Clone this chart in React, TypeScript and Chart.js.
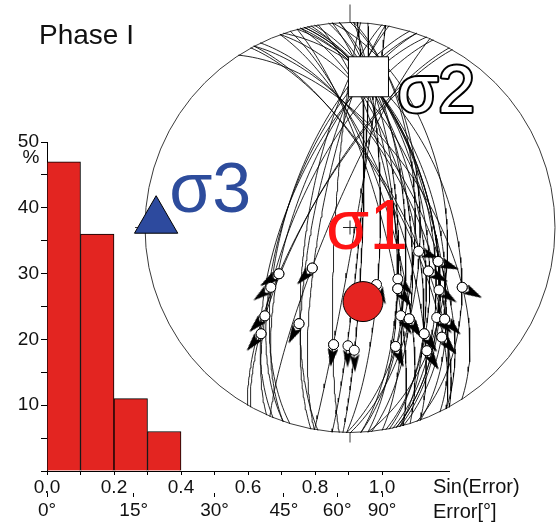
import React, { useEffect, useRef } from 'react';
import { Chart, registerables } from 'chart.js';

Chart.register(...registerables);

const FONT = "'Liberation Sans', Arial, Helvetica, sans-serif";

// ---------- Histogram data ----------
const binLower = [0.0, 0.1, 0.2, 0.3];
const binWidth = 0.1;
const binPercent = [47, 36, 11, 6];
const sinTickValues = [0, 0.1, 0.2, 0.3, 0.4, 0.5, 0.6, 0.7, 0.8, 0.9, 1.0];
const sinTickLabels = ['0.0', '', '0.2', '', '0.4', '', '0.6', '', '0.8', '', '1.0'];
const errTickDegrees = [0, 15, 30, 45, 60, 90];
const errTickLabels = ['0°', '15°', '30°', '45°', '60°', '90°'];
const yTickValues = [0, 5, 10, 15, 20, 25, 30, 35, 40, 45, 50];
const yTickLabels = ['', '', '10', '', '20', '', '30', '', '40', '', '50'];

// ---------- Stereonet data (fault planes: dip direction / dip, striae: trend / plunge) ----------
const faultDipDir = [289, 287, 294, 292, 280, 281, 273, 95, 92, 91, 85, 87, 76, 77, 80, 76, 71, 81, 84, 87, 79, 77, 70, 75, 78, 57, 62, 64, 85, 91, 299, 289, 300, 279, 100, 293, 75, 90, 70, 62, 61, 73];
const faultDip = [67, 64, 68, 64, 78, 75, 84, 86, 85, 78, 72, 71, 65, 57, 60, 57, 49, 72, 66, 68, 62, 57, 58, 55, 58, 58, 62, 64, 51, 64, 73, 64, 73, 73, 88, 82, 77, 62, 71, 70, 69, 74];
const striaTrend = [237, 233, 224, 220, 223, 208, 188, 181, 178, 155, 137, 142, 109, 111, 119, 125, 118, 150, 147, 159, 145, 136, 134, 140, 148, 118, 111, 134, 148, 159, 220, 224, 237, 208, 188, 223, 142, 147, 145, 140, 119, 147];
const striaPlunge = [56, 50, 40, 33, 68, 46, 42, 42, 40, 65, 62, 59, 61, 52, 54, 46, 38, 49, 46, 38, 37, 39, 36, 31, 30, 38, 52, 36, 30, 38, 33, 40, 56, 46, 42, 68, 59, 46, 37, 31, 54, 46];

const sigmaNames = ['σ1', 'σ2', 'σ3'];
const sigmaTrend = [170, 7, 272];
const sigmaPlunge = [60, 27, 6];

// ---------- geometry helpers (lower hemisphere, equal-area) ----------
const D2R = Math.PI / 180;
type V3 = [number, number, number];
const lineVec = (trend: number, plunge: number): V3 => [
  Math.cos(plunge * D2R) * Math.sin(trend * D2R),
  Math.cos(plunge * D2R) * Math.cos(trend * D2R),
  Math.sin(plunge * D2R),
];
const project = (v: V3) => {
  let [x, y, z] = v;
  const m = Math.hypot(x, y, z);
  x /= m; y /= m; z /= m;
  if (z < 0) { x = -x; y = -y; z = -z; }
  const h = Math.hypot(x, y);
  const r = Math.sqrt(Math.max(0, 1 - z));
  if (h < 1e-9) return { x: 0, y: 0 };
  return { x: (x / h) * r, y: (y / h) * r };
};
const greatCircle = (dd: number, dip: number) => {
  const s: V3 = [Math.sin((dd - 90) * D2R), Math.cos((dd - 90) * D2R), 0];
  const d = lineVec(dd, dip);
  const pts: { x: number; y: number }[] = [];
  for (let a = 0; a <= 180; a += 2) {
    const c = Math.cos(a * D2R), sn = Math.sin(a * D2R);
    pts.push(project([s[0] * c + d[0] * sn, s[1] * c + d[1] * sn, s[2] * c + d[2] * sn]));
  }
  return pts;
};

function makeArrowCanvas() {
  const c = document.createElement('canvas');
  c.width = 10; c.height = 18;
  const g = c.getContext('2d')!;
  g.fillStyle = '#000';
  g.beginPath();
  g.moveTo(5, 0);
  g.lineTo(10, 18);
  g.lineTo(5, 14);
  g.lineTo(0, 18);
  g.closePath();
  g.fill();
  return c;
}

function Histogram() {
  const ref = useRef<HTMLCanvasElement>(null);
  useEffect(() => {
    const textPlugin = {
      id: 'histText',
      afterDraw(chart: any) {
        const ctx = chart.ctx;
        const ys = chart.scales.y;
        const xs = chart.scales.x;
        ctx.save();
        ctx.fillStyle = '#111';
        ctx.textAlign = 'center';
        ctx.textBaseline = 'middle';
        ctx.font = `19px ${FONT}`;
        ctx.fillText('%', ys.right - 16, ys.getPixelForValue(50) + 16);
        ctx.textAlign = 'left';
        ctx.font = `20px ${FONT}`;
        const tx = xs.getPixelForValue(1.0) + 51;
        ctx.fillText('Sin(Error)', tx, 487);
        ctx.fillText('Error[°]', tx, 512);
        ctx.textBaseline = 'alphabetic';
        ctx.font = `28px ${FONT}`;
        ctx.fillText('Phase I', 39, 44);
        ctx.restore();
      },
    };
    const chart = new Chart(ref.current!, {
      type: 'bar',
      data: {
        datasets: [
          {
            data: binLower.map((b, i) => ({ x: b + binWidth / 2, y: binPercent[i] })),
            backgroundColor: '#e32521',
            borderColor: '#000',
            borderWidth: 1,
            barPercentage: 1,
            categoryPercentage: 1,
          },
        ],
      },
      options: {
        animation: false,
        responsive: false,
        devicePixelRatio: 1,
        events: [],
        layout: { autoPadding: false, padding: { left: 0, right: 109, top: 142, bottom: 0 } },
        plugins: { legend: { display: false }, tooltip: { enabled: false } },
        scales: {
          x: {
            type: 'linear',
            position: 'bottom',
            offset: false,
            min: 0,
            max: 1.2,
            afterFit: (s: any) => { s.height = 22; },
            afterBuildTicks: (s: any) => { s.ticks = sinTickValues.map((v) => ({ value: v })); },
            ticks: {
              autoSkip: false,
              maxRotation: 0,
              padding: 1,
              color: '#111',
              font: { size: 19, family: FONT },
              callback: (_v: any, i: number) => sinTickLabels[i],
            },
            grid: { drawOnChartArea: false, offset: false, tickLength: 4, color: '#000' },
            border: { color: '#000', width: 1 },
          },
          x2: {
            type: 'linear',
            position: 'bottom',
            offset: false,
            min: 0,
            max: 1.2,
            afterFit: (s: any) => { s.height = 29; },
            afterBuildTicks: (s: any) => { s.ticks = errTickDegrees.map((d) => ({ value: Math.sin(d * D2R) })); },
            ticks: {
              autoSkip: false,
              maxRotation: 0,
              padding: 2,
              color: '#111',
              font: { size: 19, family: FONT },
              callback: (_v: any, i: number) => errTickLabels[i],
            },
            grid: { drawOnChartArea: false, offset: false, tickLength: 4, color: '#000' },
            border: { display: false },
          },
          y: {
            type: 'linear',
            min: 0,
            max: 50,
            afterFit: (s: any) => { s.width = 47; },
            afterBuildTicks: (s: any) => { s.ticks = yTickValues.map((v) => ({ value: v })); },
            ticks: {
              autoSkip: false,
              padding: 2,
              color: '#111',
              font: { size: 19, family: FONT },
              callback: (_v: any, i: number) => yTickLabels[i],
            },
            grid: { drawOnChartArea: false, tickLength: 6, color: '#000' },
            border: { color: '#000', width: 1 },
          },
        },
      },
      plugins: [textPlugin],
    } as any);
    return () => chart.destroy();
  }, []);
  return <canvas ref={ref} width={558} height={522} style={{ position: 'absolute', left: 0, top: 0 }} />;
}

function Stereonet() {
  const ref = useRef<HTMLCanvasElement>(null);
  useEffect(() => {
    const arrowImg = makeArrowCanvas();
    const circleSets = faultDipDir.map((dd, i) => ({
      data: greatCircle(dd, faultDip[i]),
      showLine: true,
      borderColor: '#000',
      borderWidth: 0.85,
      pointRadius: 0,
      tension: 0,
      clip: false,
      order: 10,
    }));
    // striae with slip-sense arrows (normal faults: arrow points outward along trend)
    const striaPts = striaTrend.map((t, i) => project(lineVec(t, striaPlunge[i])));
    const off = 13 / 205;
    const arrowPts = striaTrend.map((t, i) => ({
      x: striaPts[i].x + Math.sin(t * D2R) * off,
      y: striaPts[i].y + Math.cos(t * D2R) * off,
    }));
    const arrowRot = striaTrend.map((t) => t);
    const sig = sigmaTrend.map((t, i) => project(lineVec(t, sigmaPlunge[i])));

    const netPlugin = {
      id: 'net',
      beforeDatasetsDraw(chart: any) {
        const { ctx } = chart;
        const xs = chart.scales.x, ys = chart.scales.y;
        const cx = xs.getPixelForValue(0), cy = ys.getPixelForValue(0);
        const R = xs.getPixelForValue(1) - cx;
        ctx.save();
        ctx.strokeStyle = '#3a3a3a';
        ctx.lineWidth = 1;
        ctx.beginPath();
        ctx.arc(cx, cy, R, 0, Math.PI * 2);
        ctx.stroke();
        ctx.beginPath();
        ctx.moveTo(cx, cy - R - 18); ctx.lineTo(cx, cy - R);
        ctx.moveTo(cx, cy + R); ctx.lineTo(cx, cy + R + 10);
        ctx.moveTo(cx - R - 10, cy); ctx.lineTo(cx - R + 2, cy);
        ctx.stroke();
        ctx.restore();
      },
      afterDatasetsDraw(chart: any) {
        const { ctx } = chart;
        const xs = chart.scales.x, ys = chart.scales.y;
        const px = (p: { x: number; y: number }) => [xs.getPixelForValue(p.x), ys.getPixelForValue(p.y)];
        const [s1x, s1y] = px(sig[0]);
        const [s2x, s2y] = px(sig[1]);
        const [s3x, s3y] = px(sig[2]);
        ctx.save();
        ctx.textBaseline = 'alphabetic';
        ctx.textAlign = 'left';
        ctx.font = `70px ${FONT}`;
        ctx.fillStyle = '#ff1414';
        ctx.fillText(sigmaNames[0], s1x - 37, s1y - 53);
        ctx.fillStyle = '#2d4c9c';
        ctx.fillText(sigmaNames[2], s3x + 13, s3y - 9);
        ctx.font = `66px ${FONT}`;
        ctx.lineJoin = 'round';
        ctx.lineWidth = 4;
        ctx.strokeStyle = '#000';
        ctx.strokeText(sigmaNames[1], s2x + 29, s2y + 35);
        ctx.fillStyle = '#fff';
        ctx.fillText(sigmaNames[1], s2x + 29, s2y + 35);
        // centre cross
        const cx = xs.getPixelForValue(0), cy = ys.getPixelForValue(0);
        ctx.strokeStyle = '#222';
        ctx.lineWidth = 1;
        ctx.beginPath();
        ctx.moveTo(cx - 7, cy); ctx.lineTo(cx + 7, cy);
        ctx.moveTo(cx, cy - 7); ctx.lineTo(cx, cy + 7);
        ctx.stroke();
        ctx.restore();
      },
    };

    const chart = new Chart(ref.current!, {
      type: 'scatter',
      data: {
        datasets: [
          ...circleSets,
          {
            data: arrowPts,
            pointStyle: arrowImg,
            pointRadius: 8,
            pointRotation: arrowRot,
            clip: false,
            order: 4,
          },
          {
            data: striaPts,
            pointStyle: 'circle',
            pointRadius: 5,
            pointBackgroundColor: '#fff',
            pointBorderColor: '#000',
            pointBorderWidth: 1,
            clip: false,
            order: 3,
          },
          {
            data: [sig[0]],
            pointStyle: 'circle',
            pointRadius: 20,
            pointBackgroundColor: '#e52421',
            pointBorderColor: '#000',
            pointBorderWidth: 1,
            clip: false,
            order: 1,
          },
          {
            data: [sig[1]],
            pointStyle: 'rect',
            pointRadius: 28.3,
            pointBackgroundColor: '#fff',
            pointBorderColor: '#000',
            pointBorderWidth: 1,
            clip: false,
            order: 1,
          },
          {
            data: [sig[2]],
            pointStyle: 'triangle',
            pointRadius: 25,
            pointBackgroundColor: '#2d4a9e',
            pointBorderColor: '#000',
            pointBorderWidth: 1,
            clip: false,
            order: 1,
          },
        ],
      },
      options: {
        animation: false,
        responsive: false,
        devicePixelRatio: 1,
        events: [],
        layout: { autoPadding: false, padding: { left: 145, right: 3, top: 22, bottom: 89 } },
        plugins: { legend: { display: false }, tooltip: { enabled: false } },
        scales: {
          x: { type: 'linear', min: -1, max: 1, display: false },
          y: { type: 'linear', min: -1, max: 1, display: false },
        },
      },
      plugins: [netPlugin],
    } as any);
    return () => chart.destroy();
  }, []);
  return <canvas ref={ref} width={558} height={522} style={{ position: 'absolute', left: 0, top: 0 }} />;
}

export default function App() {
  return (
    <div style={{ position: 'fixed', left: 0, top: 0, width: 558, height: 522, background: '#fff', overflow: 'hidden' }}>
      <Histogram />
      <Stereonet />
    </div>
  );
}
